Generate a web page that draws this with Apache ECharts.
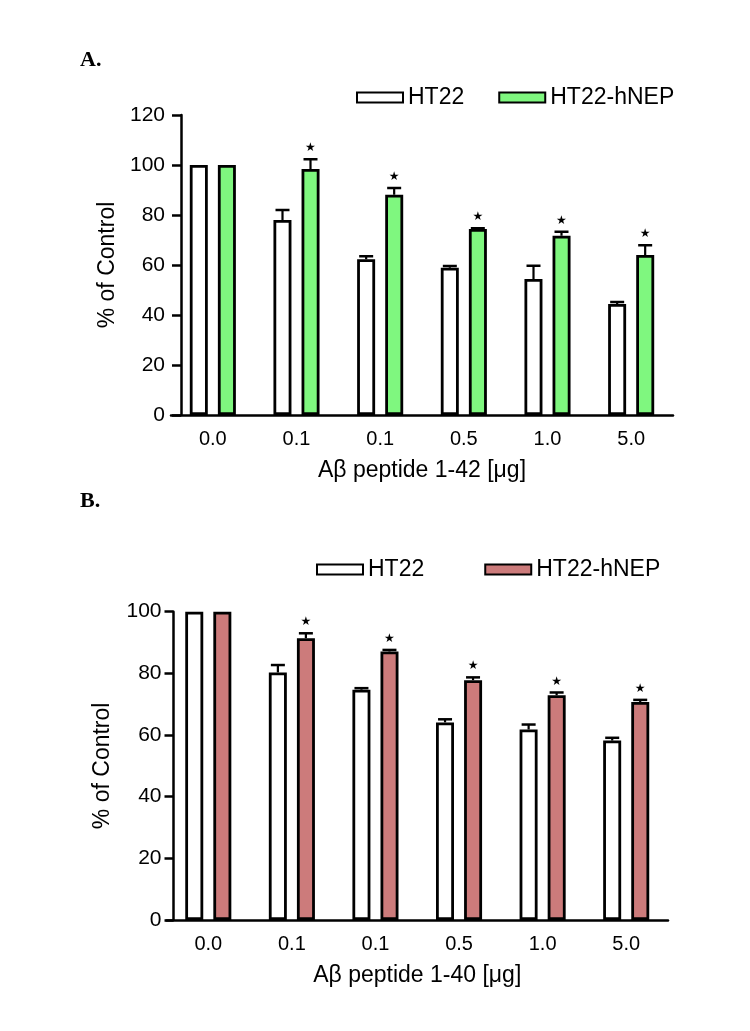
<!DOCTYPE html>
<html>
<head>
<meta charset="utf-8">
<script src="https://cdn.jsdelivr.net/npm/echarts@6/dist/echarts.min.js"></script>
<style>
html,body{margin:0;padding:0;background:#fff;}
#c{width:750px;height:1031px;}
</style>
</head>
<body>
<div id="c"></div>
<script>
// ---- data ----
const categories = ['0.0', '0.1', '0.1', '0.5', '1.0', '5.0'];
const seriesNames = ['HT22', 'HT22-hNEP'];
// Panel A: Aβ 1-42
const ht22A = [100, 78, 62.3, 58.9, 54.4, 44.4];
const hnepA = [100, 98.4, 88.1, 74.4, 71.7, 64];
const ht22A_err = [0, 4, 1.2, 0.7, 5.3, 0.8];
const hnepA_err = [0, 3.9, 2.7, 0.3, 1.6, 3.9];
const sigA = [0, 1, 1, 1, 1, 1];
// Panel B: Aβ 1-40
const ht22B = [100, 80.3, 74.7, 64.1, 61.8, 58.2];
const hnepB = [100, 91.4, 87.1, 77.8, 72.9, 70.7];
const ht22B_err = [0, 2.4, 0.5, 1.0, 1.6, 0.9];
const hnepB_err = [0, 1.6, 0.5, 0.9, 0.9, 0.7];
const sigB = [0, 1, 1, 1, 1, 1];
const yTicksA = [0, 20, 40, 60, 80, 100, 120];
const yTicksB = [0, 20, 40, 60, 80, 100];

// ---- styles ----
const FONT = "'Liberation Sans', Arial, sans-serif";
const GREEN = '#7ff77f';
const RED = '#cc7b7b';
const BAR_W = 18;
const BAR_GAP = '56%';
const HALF_SPACING = 14; // px from group center to each bar center
const CAP = 14;

const chart = echarts.init(document.getElementById('c'), null, {renderer: 'canvas'});

function errSeries(xi, yi, means, errs, sig, sign) {
  const data = means.map((m, i) => [i, m + errs[i], m, sig[i]]);
  return {
    type: 'custom',
    xAxisIndex: xi, yAxisIndex: yi,
    silent: true,
    z: 5,
    data: data,
    renderItem: function (params, api) {
      const base = api.coord([api.value(0), api.value(2)]);
      const top = api.coord([api.value(0), api.value(1)]);
      const x = base[0] + sign * HALF_SPACING;
      const children = [];
      if (api.value(1) > api.value(2)) {
        children.push({type: 'line', shape: {x1: x, y1: base[1], x2: x, y2: top[1]}, style: {stroke: '#000', lineWidth: 2.2}});
        children.push({type: 'line', shape: {x1: x - CAP / 2, y1: top[1], x2: x + CAP / 2, y2: top[1]}, style: {stroke: '#000', lineWidth: 2.5}});
      }
      if (api.value(3)) {
        children.push({type: 'text', x: x, y: top[1] - 11, style: {text: '\u2605', fill: '#000', font: "12px 'DejaVu Sans'", textAlign: 'center', textVerticalAlign: 'middle'}});
      }
      return {type: 'group', children: children};
    }
  };
}

function barSeries(name, xi, yi, values, color) {
  return {
    name: name, type: 'bar', xAxisIndex: xi, yAxisIndex: yi,
    data: values, barWidth: BAR_W, barGap: BAR_GAP,
    itemStyle: {color: color, borderColor: '#000', borderWidth: 2.8},
    emphasis: {disabled: true}
  };
}

function yAxis(gi, ticks, margin, gap, offset) {
  return {
    type: 'value', gridIndex: gi, min: ticks[0], max: ticks[ticks.length - 1], interval: 20,
    offset: offset,
    name: '% of Control', nameLocation: 'middle', nameGap: gap,
    nameTextStyle: {fontFamily: FONT, fontSize: 23, color: '#000'},
    axisLine: {show: true, lineStyle: {color: '#000', width: 2.5}},
    axisTick: {show: true, length: 9, lineStyle: {color: '#000', width: 2.5}},
    axisLabel: {fontFamily: FONT, fontSize: 21, color: '#000', margin: margin},
    splitLine: {show: false}
  };
}

function xAxis(gi, name) {
  return {
    type: 'category', gridIndex: gi, data: categories,
    name: name, nameLocation: 'middle', nameGap: 44,
    nameTextStyle: {fontFamily: FONT, fontSize: 23, color: '#000', verticalAlign: 'top'},
    axisLine: {lineStyle: {color: '#000', width: 2.5}},
    axisTick: {show: false},
    axisLabel: {fontFamily: FONT, fontSize: 20, color: '#000', margin: 14}
  };
}

const option = {
  backgroundColor: '#fff',
  animation: false,
  grid: [
    {left: 171, width: 502, top: 115, height: 300},
    {left: 166.5, width: 501.5, top: 611.7, height: 308.3}
  ],
  xAxis: [xAxis(0, 'A\u03b2 peptide 1-42 [\u03bcg]'), xAxis(1, 'A\u03b2 peptide 1-40 [\u03bcg]')],
  yAxis: [yAxis(0, yTicksA, 16, 62, -10), yAxis(1, yTicksB, 12, 59, -7)],
  legend: [
    {
      left: 356, top: 86, padding: 0, itemWidth: 46, itemHeight: 10, itemGap: 34, icon: 'rect',
      selectedMode: false,
      textStyle: {fontFamily: FONT, fontSize: 23, color: '#000'},
      itemStyle: {borderColor: '#000', borderWidth: 2},
      data: [{name: seriesNames[0], itemStyle: {color: '#fff'}}, {name: seriesNames[1], itemStyle: {color: GREEN}}]
    },
    {
      left: 316, top: 558, padding: 0, itemWidth: 46, itemHeight: 10, itemGap: 60, icon: 'rect',
      selectedMode: false,
      textStyle: {fontFamily: FONT, fontSize: 23, color: '#000'},
      itemStyle: {borderColor: '#000', borderWidth: 2},
      data: [{name: seriesNames[0], itemStyle: {color: '#fff'}}, {name: seriesNames[1], itemStyle: {color: RED}}]
    }
  ],
  graphic: [
    {type: 'text', left: 80, top: 49, style: {text: 'A.', font: "bold 22px 'Liberation Serif', 'Times New Roman', serif", fill: '#000'}},
    {type: 'text', left: 80, top: 490, style: {text: 'B.', font: "bold 22px 'Liberation Serif', 'Times New Roman', serif", fill: '#000'}}
  ],
  series: [
    barSeries(seriesNames[0], 0, 0, ht22A, '#fff'),
    barSeries(seriesNames[1], 0, 0, hnepA, GREEN),
    errSeries(0, 0, ht22A, ht22A_err, ht22A.map(() => 0), -1),
    errSeries(0, 0, hnepA, hnepA_err, sigA, 1),
    barSeries(seriesNames[0], 1, 1, ht22B, '#fff'),
    barSeries(seriesNames[1], 1, 1, hnepB, RED),
    errSeries(1, 1, ht22B, ht22B_err, ht22B.map(() => 0), -1),
    errSeries(1, 1, hnepB, hnepB_err, sigB, 1)
  ]
};
chart.setOption(option);
</script>
</body>
</html>
